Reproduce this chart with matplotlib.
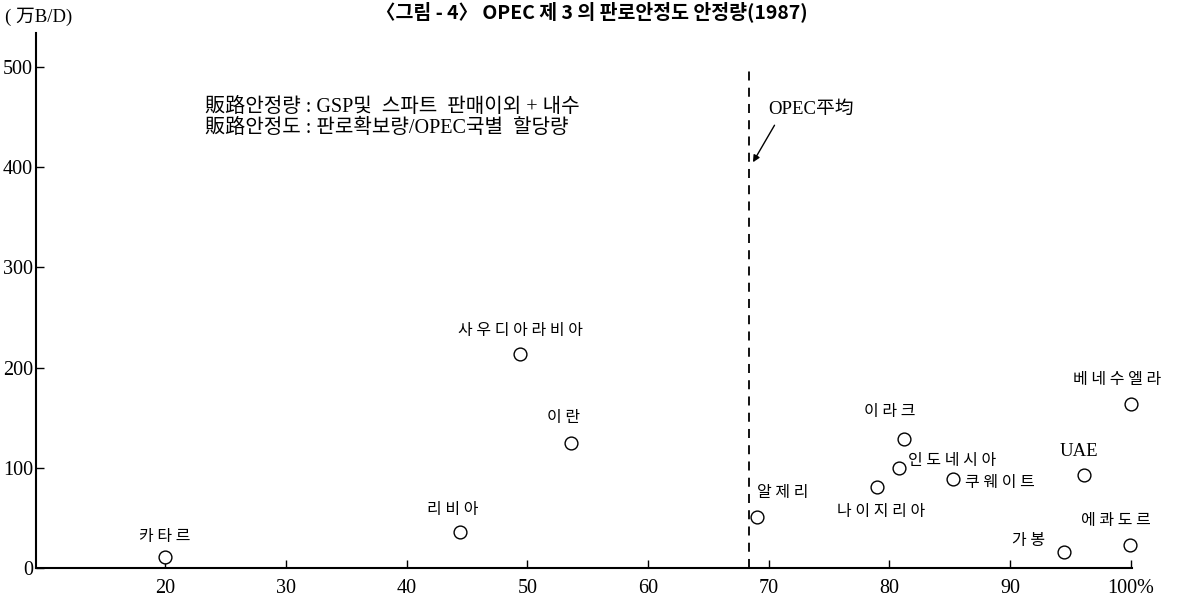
import matplotlib.pyplot as plt

plt.rcParams['font.family'] = ['Liberation Serif', 'Noto Sans CJK KR']

countries = ['카타르', '리비아', '사우디아라비아', '이란', '알제리', '나이지리아',
             '인도네시아', '이라크', '쿠웨이트', 'UAE', '베네수엘라', '가봉', '에콰도르']
stability = [20.0, 44.4, 49.4, 53.6, 69.0, 79.0, 80.8, 81.2, 85.3, 96.1, 100.0, 94.5, 99.9]
volume = [11, 36, 214, 125, 51, 81, 100, 129, 89, 93, 164, 16, 23]
opec_avg = 68.4

x_ticks = [20, 30, 40, 50, 60, 70, 80, 90, 100]
x_labels = ['20', '30', '40', '50', '60', '70', '80', '90', '100%']
y_ticks = [0, 100, 200, 300, 400, 500]

# label offsets in pixels (dx, dy, ha)
offsets = {
    '카타르': (0, 20, 'center'),
    '리비아': (-7, 22, 'center'),
    '사우디아라비아': (0, 23, 'center'),
    '이란': (-7, 25, 'center'),
    '알제리': (0, 24, 'left'),
    '나이지리아': (4, -25, 'center'),
    '인도네시아': (9, 7, 'left'),
    '이라크': (-14, 27, 'center'),
    '쿠웨이트': (12, -4, 'left'),
    'UAE': (-5, 23, 'center'),
    '베네수엘라': (-14, 24, 'center'),
    '가봉': (-36, 11, 'center'),
    '에콰도르': (-14, 24, 'center'),
}

fig = plt.figure(figsize=(11.79, 6.01), dpi=100)
ax = fig.add_axes([36 / 1179, 33 / 601, 1096 / 1179, 535 / 601])

ax.scatter(stability, volume, s=85, facecolors='white', edgecolors='black',
           linewidths=1.0, zorder=3, clip_on=False)

for name, x, y in zip(countries, stability, volume):
    dx, dy, ha = offsets[name]
    if name.isascii():
        ax.annotate(name, (x, y), xytext=(dx, dy), textcoords='offset pixels',
                    ha=ha, va='center', fontsize=13.5)
    else:
        ax.annotate(' '.join(name), (x, y), xytext=(dx, dy), textcoords='offset pixels',
                    ha=ha, va='center', fontsize=11.5, family='Noto Sans CJK KR')

ax.plot([opec_avg, opec_avg], [0, 502], color='black', lw=1.3,
        linestyle=(0, (5, 4)), zorder=2)
ax.annotate('OPEC平均', xy=(opec_avg + 0.3, 405), xytext=(70.0, 458),
            fontsize=13.5, va='center', ha='left',
            arrowprops=dict(arrowstyle='-|>', color='black', lw=1.0,
                            shrinkA=4, shrinkB=0, mutation_scale=10,
                            relpos=(0.12, 0.0)))

ax.text(23.3, 460, '販路안정량 : GSP및  스파트  판매이외 + 내수',
        fontsize=14.5, va='center', ha='left')
ax.text(23.3, 439, '販路안정도 : 판로확보량/OPEC국별  할당량',
        fontsize=14.5, va='center', ha='left')

ax.set_xlim(9.3, 100.1)
ax.set_ylim(0, 534)
ax.set_xticks(x_ticks)
ax.set_xticklabels(x_labels)
ax.set_yticks(y_ticks)
ax.tick_params(axis='both', direction='in', length=6, width=1.0,
               labelsize=14.5, pad=8)
ax.tick_params(axis='y', pad=2)
for side in ['top', 'right']:
    ax.spines[side].set_visible(False)
for side in ['left', 'bottom']:
    ax.spines[side].set_linewidth(1.5)

fig.text(5 / 1179, 1 - 17 / 601, '( 万B/D)', fontsize=13.5, va='center', ha='left')
fig.text(592 / 1179, 1 - 12 / 601, '〈그림 - 4〉 OPEC 제 3 의 판로안정도 안정량(1987)',
         fontsize=14, fontweight='bold', va='center', ha='center',
         family=['Noto Sans CJK KR', 'DejaVu Sans'])

fig.savefig('out.png', dpi=100)
